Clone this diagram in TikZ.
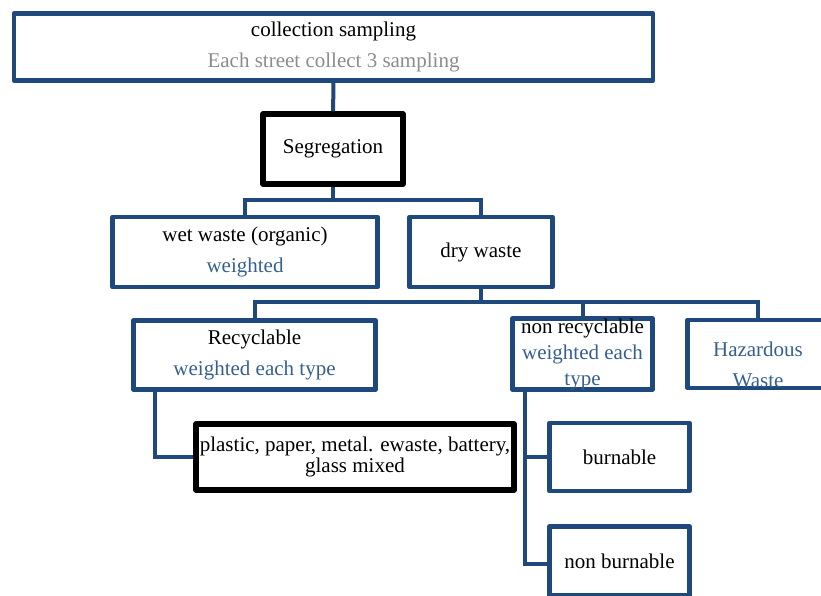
\documentclass[tikz,border=0pt]{standalone}
\usepackage{fontspec}
\setmainfont{Liberation Serif}
\usepackage{xcolor}
\usetikzlibrary{positioning}
\definecolor{boxblue}{HTML}{1F497D}
\definecolor{noteblue}{HTML}{365F91}
\definecolor{notegray}{HTML}{8C8C8C}

\begin{document}
\begin{tikzpicture}[
    x=1pt, y=-1pt,
    bluebox/.style={rectangle, draw=boxblue, line width=4.5pt, line join=round, inner sep=0pt, align=center, font=\fontsize{21}{31}\selectfont},
    blackbox/.style={bluebox, draw=black, line width=5.5pt},
    link/.style={draw=boxblue, line width=4pt}
]
    \useasboundingbox (0,0) rectangle (821,595);
    \clip (0,0) rectangle (821,595);

    \node[bluebox, minimum width=639pt, minimum height=67pt] (coll) at (333.5,47) {collection sampling\\\textcolor{notegray}{Each street collect 3 sampling}};
    \node[blackbox, minimum width=140pt, minimum height=70pt] (seg) at (333,149) {Segregation};

    \node[bluebox, minimum width=265pt, minimum height=70pt] (wet) at (245,252) {wet waste (organic)\\\textcolor{noteblue}{weighted}};
    \node[bluebox, minimum width=143pt, minimum height=70pt] (dry) at (481,252) {dry waste};

    \node[bluebox, minimum width=242pt, minimum height=69pt] (recyc) at (254.5,355) {Recyclable\\\textcolor{noteblue}{weighted each type}};
    \node[bluebox, minimum width=140pt, minimum height=68pt, font=\fontsize{21}{26}\selectfont] (nonrec) at (582.5,354) {non recyclable\\\textcolor{noteblue}{weighted each}\\\textcolor{noteblue}{type}};
    \node[bluebox, minimum width=141pt, minimum height=68pt, text=noteblue] (haz) at (758,354) {\raisebox{-12pt}[\height][\depth]{\begin{tabular}{@{}c@{}}Hazardous\\Waste\end{tabular}}};

    \node[blackbox, minimum width=318pt, minimum height=66pt, font=\fontsize{21}{21}\selectfont] (plast) at (355,457) {plastic, paper, metal. ewaste, battery,\\glass mixed};
    \node[bluebox, minimum width=140pt, minimum height=68pt] (burn) at (619.5,457) {burnable};
    \node[bluebox, minimum width=140pt, minimum height=69pt] (nonburn) at (619.5,561) {non burnable};

    % tree links
    \draw[link] (coll) -- (seg);
    \draw[link] (seg.south) -- ++(0,13) -| (wet.north);
    \draw[link] (seg.south) -- ++(0,13) -| (dry.north);
    \draw[link] (dry.south) -- ++(0,13) -| (recyc.north);
    \draw[link] (dry.south) -- ++(0,13) -| (nonrec.north);
    \draw[link] (dry.south) -- ++(0,13) -| (haz.north);
    \draw[link] ([xshift=24pt]recyc.south west) |- (plast.west);
    \draw[link] ([xshift=15pt]nonrec.south west) |- (burn.west);
    \draw[link] ([xshift=15pt]nonrec.south west) |- ([yshift=-3pt]nonburn.west);
\end{tikzpicture}
\end{document}
